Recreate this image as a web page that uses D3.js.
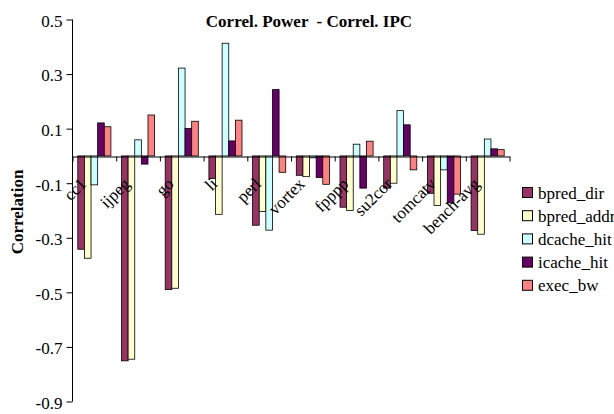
<!DOCTYPE html>
<html>
<head>
<meta charset="utf-8">
<script src="https://cdn.jsdelivr.net/npm/d3@7"></script>
<style>
  html, body { margin: 0; padding: 0; background: #fff; }
  svg { display: block; }
  text { font-family: "Liberation Serif", "Times New Roman", serif; fill: #000; }
</style>
</head>
<body>
<svg id="chart" width="614" height="414"></svg>
<script>
const categories = ["cc1", "ijpeg", "go", "li", "perl", "vortex", "fpppp", "su2cor", "tomcatv", "bench-avg"];
const seriesNames = ["bpred_dir", "bpred_addr", "dcache_hit", "icache_hit", "exec_bw"];
const bpred_dir  = [-0.342, -0.751, -0.490, -0.083, -0.254, -0.071, -0.188, -0.118, -0.137, -0.273];
const bpred_addr = [-0.375, -0.745, -0.485, -0.214, -0.204, -0.076, -0.200, -0.100, -0.182, -0.287];
const dcache_hit = [-0.106,  0.059,  0.322,  0.413, -0.272, -0.007,  0.043,  0.166, -0.051,  0.062];
const icache_hit = [ 0.121, -0.030,  0.101,  0.055,  0.243, -0.079, -0.118,  0.114, -0.172,  0.026];
const exec_bw    = [ 0.107,  0.150,  0.127,  0.131, -0.060, -0.104,  0.054, -0.051, -0.140,  0.023];
const seriesColors = ["#993366", "#FFFFCC", "#CCFFFF", "#660066", "#FF8080"];
const yTickValues = [0.5, 0.3, 0.1, -0.1, -0.3, -0.5, -0.7, -0.9];
const yTickLabels = ["0.5", "0.3", "0.1", "-0.1", "-0.3", "-0.5", "-0.7", "-0.9"];
const titleText = "Correl. Power  - Correl. IPC";
const yAxisTitle = "Correlation";

const seriesValues = [bpred_dir, bpred_addr, dcache_hit, icache_hit, exec_bw];
const rows = categories.map((c, i) => ({cat: c, vals: seriesNames.map((s, j) => ({s, v: seriesValues[j][i]}))}));

const svg = d3.select("#chart");
const plotLeft = 72.5, plotRight = 509.5, plotTop = 19.5, plotBottom = 401.5;

const y = d3.scaleLinear().domain([-0.9, 0.5]).range([plotBottom, plotTop]);
const x0 = d3.scaleBand().domain(categories).range([plotLeft, plotRight]).padding(0);
const x1 = d3.scaleBand().domain(seriesNames).range([0, x0.bandwidth()]).paddingInner(0).paddingOuter(0.8);
const color = d3.scaleOrdinal().domain(seriesNames).range(seriesColors);
const fs = 17;

// Title
svg.append("text")
  .attr("x", 309).attr("y", 27)
  .attr("text-anchor", "middle")
  .attr("font-weight", "bold")
  .attr("font-size", fs)
  .style("white-space", "pre")
  .text(titleText);

// Y axis title
svg.append("text")
  .attr("transform", "translate(23,212) rotate(-90)")
  .attr("text-anchor", "middle")
  .attr("font-weight", "bold")
  .attr("font-size", fs)
  .text(yAxisTitle);

// Y axis
const yAxis = svg.append("g")
  .attr("transform", `translate(${plotLeft},0)`)
  .call(d3.axisLeft(y).tickValues(yTickValues).tickSize(6).tickSizeOuter(0)
    .tickFormat((d, i) => yTickLabels[i]));
yAxis.select(".domain").attr("stroke", "#000").attr("d", `M0,${y(0.5)}V${y(-0.9)}`);
yAxis.selectAll(".tick line").attr("stroke", "#000");
yAxis.selectAll(".tick text")
  .attr("font-family", "Liberation Serif, serif")
  .attr("font-size", fs)
  .attr("x", -10)
  .attr("dy", "0.4em");

// Bars
const groups = svg.append("g").selectAll("g")
  .data(rows)
  .join("g")
  .attr("transform", d => `translate(${x0(d.cat)},0)`);
groups.selectAll("rect")
  .data(d => d.vals)
  .join("rect")
  .attr("x", d => x1(d.s))
  .attr("width", x1.bandwidth())
  .attr("y", d => Math.min(y(d.v), y(0)))
  .attr("height", d => Math.abs(y(d.v) - y(0)))
  .attr("fill", d => color(d.s))
  .attr("stroke", "#000")
  .attr("stroke-width", 0.8);

// Category axis along zero
const idx = d3.scaleLinear().domain([0, categories.length]).range([plotLeft, plotRight]);
const xAxis = svg.append("g")
  .attr("transform", `translate(0,${Math.round(y(0)) + 0.5})`)
  .call(d3.axisBottom(idx).tickValues(d3.range(0, categories.length + 1)).tickSize(5).tickSizeOuter(0).tickFormat(""));
xAxis.select(".domain").attr("stroke", "#000");
xAxis.selectAll(".tick line").attr("stroke", "#000");

// Category labels (drawn over the bars)
svg.append("g").selectAll("text")
  .data(categories)
  .join("text")
  .attr("transform", d => `translate(${x0(d) + x0.bandwidth() / 2 - 7},${y(0) + 29}) rotate(-45)`)
  .attr("text-anchor", "end")
  .attr("font-size", fs)
  .text(d => d);

// Legend
const legend = svg.append("g").attr("transform", "translate(522,187)");
const lg = legend.selectAll("g")
  .data(seriesNames)
  .join("g")
  .attr("transform", (d, i) => `translate(0,${i * 23.2})`);
lg.append("rect")
  .attr("x", 0.5).attr("y", 0.5)
  .attr("width", 10).attr("height", 10)
  .attr("fill", d => color(d))
  .attr("stroke", "#000")
  .attr("stroke-width", 1);
lg.append("text")
  .attr("x", 16).attr("y", 5.5)
  .attr("dy", "0.36em")
  .attr("font-size", fs)
  .text(d => d);
</script>
</body>
</html>
